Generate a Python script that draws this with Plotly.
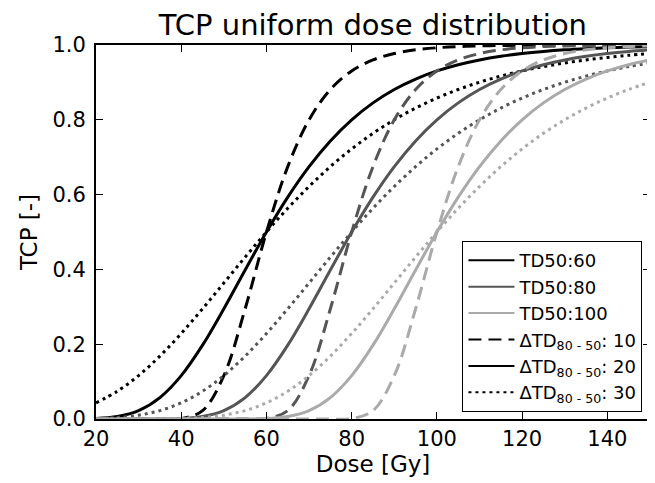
import plotly.graph_objects as go

# dose grid [Gy]
dose = [20, 25, 30, 35, 40, 45, 50, 55, 60, 65, 70, 75, 80, 85, 90,
        95, 100, 105, 110, 115, 120, 125, 130, 135, 140, 145, 150]

# TCP values, one list per (TD50, dTD80-50)
tcp_60_10 = [0.0, 0.0, 0.0, 0.0, 0.0012, 0.0225, 0.1161, 0.2947, 0.5, 0.6749,
             0.8, 0.8811, 0.9307, 0.9601, 0.9771, 0.9870, 0.9926, 0.9958, 0.9976,
             0.9986, 0.9992, 0.9996, 0.9998, 0.9999, 0.9999, 1.0, 1.0]
tcp_60_20 = [0.0012, 0.0065, 0.0225, 0.0573, 0.1161, 0.1975, 0.2947, 0.3984, 0.5,
             0.5933, 0.6749, 0.7436, 0.8, 0.8453, 0.8811, 0.9090, 0.9307, 0.9473,
             0.9601, 0.9698, 0.9771, 0.9827, 0.9870, 0.9902, 0.9926, 0.9944, 0.9958]
tcp_60_30 = [0.0432, 0.0742, 0.1161, 0.1682, 0.2286, 0.2947, 0.3637, 0.4329, 0.5,
             0.5634, 0.6218, 0.6749, 0.7221, 0.7638, 0.8, 0.8314, 0.8582, 0.8811,
             0.9005, 0.9169, 0.9307, 0.9422, 0.9520, 0.9601, 0.9668, 0.9725, 0.9771]

tcp_80_10 = [0.0, 0.0, 0.0, 0.0, 0.0, 0.0, 0.0, 0.0, 0.0012, 0.0225, 0.1161,
             0.2947, 0.5, 0.6749, 0.8, 0.8811, 0.9307, 0.9601, 0.9771, 0.9870,
             0.9926, 0.9958, 0.9976, 0.9986, 0.9992, 0.9996, 0.9998]
tcp_80_20 = [0.0, 0.0, 0.0, 0.0001, 0.0012, 0.0065, 0.0225, 0.0573, 0.1161,
             0.1975, 0.2947, 0.3984, 0.5, 0.5933, 0.6749, 0.7436, 0.8, 0.8453,
             0.8811, 0.9090, 0.9307, 0.9473, 0.9601, 0.9698, 0.9771, 0.9827, 0.9870]
tcp_80_30 = [0.0012, 0.0039, 0.0102, 0.0225, 0.0432, 0.0742, 0.1161, 0.1682,
             0.2286, 0.2947, 0.3637, 0.4329, 0.5, 0.5634, 0.6218, 0.6749, 0.7221,
             0.7638, 0.8, 0.8314, 0.8582, 0.8811, 0.9005, 0.9169, 0.9307, 0.9422, 0.9520]

tcp_100_10 = [0.0, 0.0, 0.0, 0.0, 0.0, 0.0, 0.0, 0.0, 0.0, 0.0, 0.0, 0.0,
              0.0012, 0.0225, 0.1161, 0.2947, 0.5, 0.6749, 0.8, 0.8811, 0.9307,
              0.9601, 0.9771, 0.9870, 0.9926, 0.9958, 0.9976]
tcp_100_20 = [0.0, 0.0, 0.0, 0.0, 0.0, 0.0, 0.0, 0.0001, 0.0012, 0.0065, 0.0225,
              0.0573, 0.1161, 0.1975, 0.2947, 0.3984, 0.5, 0.5933, 0.6749, 0.7436,
              0.8, 0.8453, 0.8811, 0.9090, 0.9307, 0.9473, 0.9601]
tcp_100_30 = [0.0, 0.0, 0.0001, 0.0003, 0.0012, 0.0039, 0.0102, 0.0225, 0.0432,
              0.0742, 0.1161, 0.1682, 0.2286, 0.2947, 0.3637, 0.4329, 0.5, 0.5634,
              0.6218, 0.6749, 0.7221, 0.7638, 0.8, 0.8314, 0.8582, 0.8811, 0.9005]

td50_labels = ["TD50:60", "TD50:80", "TD50:100"]
delta_labels = ["ΔTD<sub>80 - 50</sub>: 10", "ΔTD<sub>80 - 50</sub>: 20",
                "ΔTD<sub>80 - 50</sub>: 30"]

colors = ["#000000", "#555555", "#aaaaaa"]
dashes = ["13px,7px", "solid", "3px,4px"]

curves = [
    [tcp_60_10, tcp_60_20, tcp_60_30],
    [tcp_80_10, tcp_80_20, tcp_80_30],
    [tcp_100_10, tcp_100_20, tcp_100_30],
]

fig = go.Figure()

for i, row in enumerate(curves):
    for j, y in enumerate(row):
        fig.add_trace(go.Scatter(
            x=dose, y=y, mode="lines", showlegend=False,
            line=dict(color=colors[i], width=3, dash=dashes[j], shape="spline"),
        ))

# legend-only traces
for i, name in enumerate(td50_labels):
    fig.add_trace(go.Scatter(x=[None], y=[None], mode="lines", name=name,
                             line=dict(color=colors[i], width=2)))
for j, name in enumerate(delta_labels):
    fig.add_trace(go.Scatter(x=[None], y=[None], mode="lines", name=name,
                             line=dict(color="black", width=2, dash=dashes[j])))

axis_style = dict(
    showline=True, linecolor="black", linewidth=2, mirror="ticks",
    ticks="inside", ticklen=7, tickwidth=1, tickcolor="black",
    showgrid=False, zeroline=False, automargin=False,
    tickfont=dict(size=21, color="black"),
)

# page body adds an 8px offset, so the figure is shrunk to fit the window
fig.update_layout(
    width=647, height=475,
    paper_bgcolor="white", plot_bgcolor="white",
    font=dict(family="DejaVu Sans", color="black"),
    margin=dict(l=88, r=5, t=37, b=64),
    title=dict(text="TCP uniform dose distribution", x=0.564, xanchor="center",
               y=0.964, yanchor="middle", font=dict(size=29)),
    legend=dict(x=0.986, y=0.019, xanchor="right", yanchor="bottom",
                bordercolor="black", borderwidth=1.2, bgcolor="white",
                font=dict(size=18), tracegroupgap=0, itemwidth=46),
)
fig.update_xaxes(range=[20, 150], tickvals=[20, 40, 60, 80, 100, 120, 140],
                 title=dict(text="Dose [Gy]", font=dict(size=23), standoff=6),
                 **axis_style)
fig.update_yaxes(range=[0, 1], tickvals=[0, 0.2, 0.4, 0.6, 0.8, 1.0],
                 tickformat=".1f", ticklabelstandoff=4,
                 title=dict(text="TCP [-]", font=dict(size=23), standoff=8),
                 **axis_style)

fig.write_html("out.html")
